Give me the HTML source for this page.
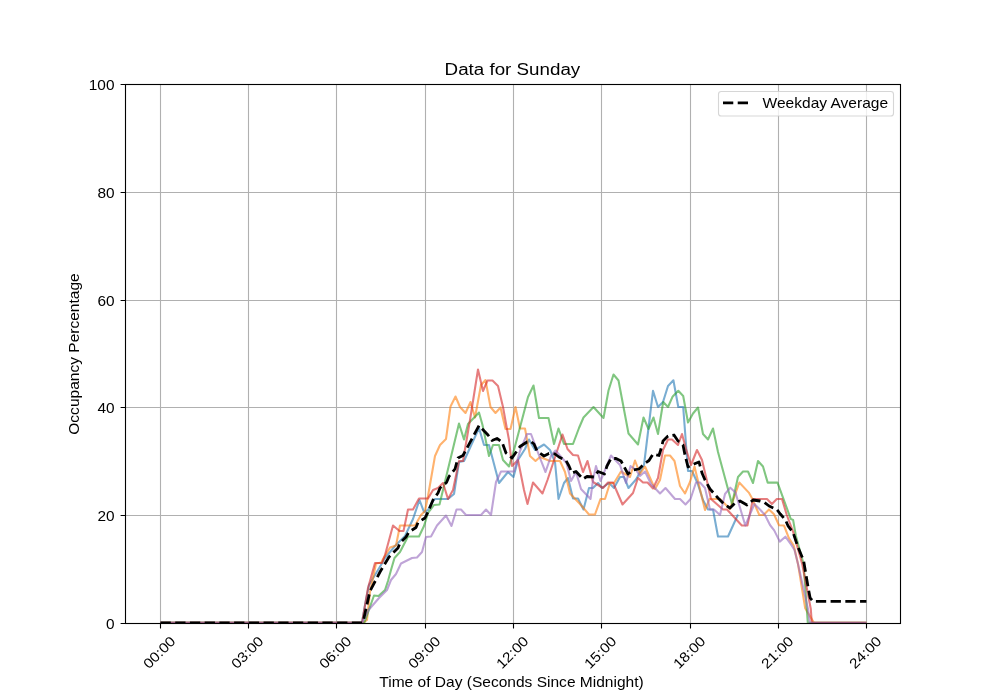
<!DOCTYPE html><html><head><meta charset="utf-8"><style>html,body{margin:0;padding:0;background:#fff;width:1000px;height:700px;overflow:hidden}svg{display:block;will-change:transform}text{font-family:"Liberation Sans",sans-serif;fill:#000}</style></head><body><svg width="1000" height="700" viewBox="0 0 1000 700"><rect x="0" y="0" width="1000" height="700" fill="#fff"/><path d="M160.50 84.5V623.5 M248.50 84.5V623.5 M336.50 84.5V623.5 M425.50 84.5V623.5 M513.50 84.5V623.5 M601.50 84.5V623.5 M690.50 84.5V623.5 M778.50 84.5V623.5 M866.50 84.5V623.5 M125.5 623.50H900.5 M125.5 515.50H900.5 M125.5 407.50H900.5 M125.5 300.50H900.5 M125.5 192.50H900.5 M125.5 84.50H900.5" stroke="#b0b0b0" stroke-width="1.11" fill="none"/><defs><clipPath id="ax"><rect x="125.5" y="84.5" width="775" height="539"/></clipPath></defs><g clip-path="url(#ax)"><path d="M160.5 622.9 L362.0 622.9 L365.0 605.0 L369.0 585.0 L375.0 575.0 L381.0 565.0 L385.0 558.0 L395.0 546.0 L405.0 536.0 L413.0 519.0 L419.5 500.0 L424.0 512.0 L428.0 510.0 L433.0 501.0 L435.0 499.0 L448.0 499.0 L454.0 494.0 L459.0 462.0 L464.0 461.0 L479.0 428.0 L484.0 445.0 L489.0 445.0 L499.0 483.0 L508.0 472.0 L513.5 477.0 L518.0 460.0 L525.0 449.0 L529.0 439.5 L535.0 450.0 L544.0 444.5 L550.0 450.0 L555.0 462.0 L558.5 499.0 L564.0 483.0 L568.0 478.0 L573.0 498.5 L578.0 498.5 L583.5 509.5 L589.0 488.0 L593.0 488.0 L598.0 483.0 L602.0 488.0 L609.0 483.0 L614.0 488.0 L620.0 477.0 L624.0 477.0 L628.5 488.0 L636.0 479.5 L644.0 465.0 L653.0 390.8 L658.0 407.0 L663.0 402.0 L668.0 386.0 L673.4 380.3 L678.3 407.0 L683.2 407.0 L688.0 471.0 L692.0 471.0 L697.5 483.0 L703.0 500.0 L708.0 509.5 L713.0 509.5 L718.0 536.5 L728.0 536.5 L738.0 514.5" stroke="#1f77b4" stroke-opacity="0.6" stroke-width="2.08" fill="none" stroke-linejoin="round" stroke-linecap="butt"/><path d="M160.5 622.9 L363.0 622.9 L367.0 620.0 L370.0 592.0 L376.0 563.5 L381.5 562.5 L383.0 559.0 L390.0 547.5 L396.0 545.5 L400.0 525.5 L415.0 525.5 L421.0 515.0 L425.0 511.0 L428.0 496.0 L435.0 456.0 L440.0 445.0 L446.0 439.0 L450.5 406.5 L455.5 396.5 L460.0 407.0 L465.5 413.0 L470.5 402.0 L475.0 417.5 L481.0 385.0 L485.5 380.0 L490.5 407.0 L495.5 413.0 L500.5 407.5 L505.5 429.0 L510.5 429.0 L515.5 407.0 L520.0 428.5 L525.0 428.5 L530.0 456.0 L535.5 461.0 L540.0 457.0 L550.0 461.0 L560.0 461.0 L565.0 472.0 L570.0 493.5 L580.0 504.0 L589.0 514.5 L595.0 514.5 L600.5 499.0 L605.0 499.0 L610.0 483.0 L614.0 483.0 L621.0 471.5 L630.0 477.0 L635.0 460.5 L640.0 474.0 L645.0 466.5 L655.0 489.0 L660.0 480.0 L665.0 455.5 L670.0 455.5 L674.5 461.0 L680.0 486.0 L685.0 493.5 L690.0 482.0 L694.5 466.5 L705.0 510.0 L709.5 499.0 L720.0 499.0 L730.0 509.0 L739.3 482.5 L748.8 492.6 L751.6 497.5 L759.3 515.0 L763.5 515.0 L769.0 509.4 L774.0 514.3 L779.0 525.2 L784.0 525.5 L788.9 538.1 L793.8 545.8 L798.0 564.0 L805.2 608.3 L814.0 622.9 L866.4 622.9" stroke="#ff7f0e" stroke-opacity="0.6" stroke-width="2.08" fill="none" stroke-linejoin="round" stroke-linecap="butt"/><path d="M160.5 622.9 L364.0 622.9 L365.0 621.0 L374.0 595.5 L378.5 596.0 L385.0 590.0 L388.0 581.0 L391.0 570.0 L394.5 558.0 L400.0 552.0 L408.0 536.5 L419.0 536.5 L424.0 526.0 L428.0 513.0 L434.0 505.0 L439.5 504.5 L459.0 423.5 L464.0 439.5 L468.0 424.0 L479.0 412.5 L482.5 425.0 L489.0 456.0 L493.0 445.0 L499.0 445.0 L503.0 460.0 L509.0 466.5 L514.0 450.0 L528.0 397.0 L533.5 385.5 L539.0 418.0 L548.5 418.0 L554.0 444.0 L558.5 428.5 L564.0 444.0 L573.0 444.0 L579.0 428.0 L583.5 417.5 L593.5 407.0 L603.5 418.0 L608.5 390.5 L613.5 374.5 L618.5 380.5 L623.5 407.0 L628.5 433.5 L638.0 444.5 L643.5 417.5 L648.5 429.0 L653.5 417.5 L658.0 434.0 L663.2 402.0 L668.0 407.0 L672.7 396.4 L678.3 390.8 L683.2 396.0 L688.0 422.5 L693.0 413.5 L698.0 407.5 L703.0 434.0 L708.0 439.5 L713.0 428.5 L718.0 452.0 L732.0 504.0 L738.0 477.0 L743.0 471.5 L748.0 471.5 L753.0 483.0 L758.0 461.0 L763.0 466.5 L767.7 482.6 L777.5 482.6 L790.8 519.0 L793.1 519.9 L795.9 536.0 L803.6 564.0 L807.8 622.9 L866.4 622.9" stroke="#2ca02c" stroke-opacity="0.6" stroke-width="2.08" fill="none" stroke-linejoin="round" stroke-linecap="butt"/><path d="M160.5 622.9 L362.0 622.9 L368.0 588.0 L375.0 563.0 L382.0 563.0 L385.0 555.0 L393.0 525.5 L399.5 531.0 L403.5 531.0 L408.0 509.5 L413.0 509.5 L419.0 498.5 L428.0 498.5 L433.0 490.0 L438.0 488.0 L443.0 483.0 L448.0 499.0 L453.0 490.0 L459.0 461.0 L463.0 461.0 L470.0 420.0 L478.0 369.5 L483.0 391.0 L487.5 380.5 L492.5 380.5 L498.0 386.0 L503.0 407.0 L509.0 440.0 L512.0 466.0 L518.0 460.0 L524.0 490.0 L527.5 504.0 L533.0 482.5 L542.5 493.5 L547.5 480.0 L562.5 434.5 L567.5 449.0 L573.0 455.0 L578.0 455.5 L583.0 472.0 L587.5 461.0 L593.0 482.0 L603.0 488.0 L608.0 482.5 L613.0 482.5 L622.5 504.5 L633.0 493.0 L638.0 478.0 L643.0 482.5 L647.5 482.5 L653.0 488.5 L658.0 478.0 L663.0 450.0 L668.0 439.5 L672.0 439.5 L678.0 445.0 L682.0 434.0 L686.0 449.0 L691.0 465.0 L697.0 450.0 L702.0 460.0 L706.5 479.0 L711.0 499.0 L723.0 509.5 L727.0 509.5 L741.8 525.5 L747.4 525.5 L753.0 499.0 L767.0 499.0 L771.9 504.0 L776.8 499.0 L782.0 499.0 L786.8 515.0 L793.1 531.8 L802.2 564.0 L810.8 609.0 L811.8 622.9 L866.4 622.9" stroke="#d62728" stroke-opacity="0.6" stroke-width="2.08" fill="none" stroke-linejoin="round" stroke-linecap="butt"/><path d="M160.5 622.9 L362.0 622.9 L369.0 609.5 L379.0 598.0 L387.0 590.0 L391.0 580.0 L396.0 574.0 L401.0 563.5 L406.0 561.0 L412.0 558.0 L417.0 557.5 L422.0 552.0 L426.0 537.0 L431.0 536.5 L437.0 525.5 L446.0 515.5 L451.5 526.0 L456.5 509.5 L461.0 509.5 L466.0 515.0 L481.0 515.0 L486.0 509.5 L491.0 515.0 L496.0 482.0 L501.0 471.5 L514.0 471.5 L520.0 451.0 L527.0 434.0 L531.0 434.0 L540.0 458.0 L545.5 472.0 L551.0 456.0 L555.5 450.5 L566.5 463.0 L571.0 481.0 L576.0 472.0 L581.0 489.0 L590.5 499.0 L593.0 480.0 L596.0 466.0 L600.5 481.0 L611.0 455.5 L620.0 465.0 L626.0 483.0 L630.5 466.0 L636.0 470.0 L640.0 476.0 L645.0 471.5 L651.0 484.0 L660.0 493.5 L665.5 488.0 L675.0 499.0 L680.0 499.0 L685.5 504.5 L690.5 499.0 L696.0 482.5 L700.0 482.5 L705.0 488.0 L710.0 509.5 L714.0 509.5 L720.0 515.0 L725.0 494.0 L730.3 487.7 L735.5 492.6 L745.3 525.5 L754.4 504.0 L760.0 509.5 L765.0 515.0 L770.0 525.0 L774.2 530.4 L779.8 541.6 L785.4 536.7 L791.0 544.4 L794.5 550.0 L798.0 564.0 L808.0 609.0 L809.8 622.9 L866.4 622.9" stroke="#9467bd" stroke-opacity="0.6" stroke-width="2.08" fill="none" stroke-linejoin="round" stroke-linecap="butt"/><path d="M160.5 622.9 L362.0 622.9 L363.5 620.0 L370.0 591.0 L380.0 572.0 L389.0 557.0 L398.0 548.0 L400.0 543.0 L406.0 537.0 L409.0 532.0 L416.0 527.5 L418.0 522.5 L425.0 518.0 L428.0 512.0 L433.0 500.0 L438.0 493.0 L440.0 488.0 L446.5 482.5 L449.0 476.5 L455.0 469.0 L458.0 458.0 L463.0 455.5 L479.0 425.5 L488.0 435.0 L492.0 440.5 L497.0 438.5 L502.0 442.0 L506.0 453.0 L512.0 458.0 L520.0 446.5 L527.0 442.0 L531.0 441.5 L534.0 444.0 L537.0 451.0 L544.0 456.0 L549.0 453.5 L555.0 454.0 L559.0 457.0 L566.0 460.5 L569.0 466.0 L572.0 473.0 L576.0 471.5 L583.0 479.0 L587.0 476.5 L594.0 477.0 L598.0 471.5 L604.5 474.0 L607.0 466.0 L611.0 458.5 L616.0 458.5 L621.0 461.0 L628.0 474.0 L633.0 470.0 L639.0 469.0 L644.0 464.0 L649.0 460.5 L653.0 454.0 L659.0 455.5 L661.0 449.0 L663.0 441.0 L668.0 436.0 L674.0 435.0 L678.0 441.0 L683.0 445.0 L685.0 455.0 L688.0 467.0 L694.0 464.0 L699.0 462.0 L702.0 473.0 L705.0 480.0 L710.0 489.0 L718.0 498.0 L724.0 504.0 L730.0 508.0 L735.0 503.0 L740.0 501.0 L747.0 505.0 L753.0 500.0 L760.0 501.0 L764.2 502.2 L769.1 506.0 L776.8 509.5 L780.3 514.0 L785.4 519.9 L788.2 526.2 L793.1 532.5 L798.0 547.2 L803.6 560.5 L808.0 586.6 L810.1 597.8 L812.9 601.3 L866.4 601.3" stroke="#000" stroke-width="2.78" fill="none" stroke-dasharray="10.28 4.44" stroke-linejoin="round"/></g><rect x="125.5" y="84.5" width="775" height="539" fill="none" stroke="#000" stroke-width="1.11"/><path d="M160.50 623.5V628.4 M248.50 623.5V628.4 M336.50 623.5V628.4 M425.50 623.5V628.4 M513.50 623.5V628.4 M601.50 623.5V628.4 M690.50 623.5V628.4 M778.50 623.5V628.4 M866.50 623.5V628.4 M120.6 623.50H125.5 M120.6 515.50H125.5 M120.6 407.50H125.5 M120.6 300.50H125.5 M120.6 192.50H125.5 M120.6 84.50H125.5" stroke="#000" stroke-width="1.11" fill="none"/><text x="0" y="0" font-size="14" text-anchor="end" transform="translate(114.5 628.70) scale(1.1 1)">0</text><text x="0" y="0" font-size="14" text-anchor="end" transform="translate(114.5 520.70) scale(1.1 1)">20</text><text x="0" y="0" font-size="14" text-anchor="end" transform="translate(114.5 412.70) scale(1.1 1)">40</text><text x="0" y="0" font-size="14" text-anchor="end" transform="translate(114.5 305.70) scale(1.1 1)">60</text><text x="0" y="0" font-size="14" text-anchor="end" transform="translate(114.5 197.70) scale(1.1 1)">80</text><text x="0" y="0" font-size="14" text-anchor="end" transform="translate(114.5 89.70) scale(1.1 1)">100</text><text x="0" y="0" font-size="14" text-anchor="middle" transform="translate(159.10 652.30) rotate(-45) scale(1.11 1)" dy="5">00:00</text><text x="0" y="0" font-size="14" text-anchor="middle" transform="translate(247.10 652.30) rotate(-45) scale(1.11 1)" dy="5">03:00</text><text x="0" y="0" font-size="14" text-anchor="middle" transform="translate(335.10 652.30) rotate(-45) scale(1.11 1)" dy="5">06:00</text><text x="0" y="0" font-size="14" text-anchor="middle" transform="translate(424.10 652.30) rotate(-45) scale(1.11 1)" dy="5">09:00</text><text x="0" y="0" font-size="14" text-anchor="middle" transform="translate(512.10 652.30) rotate(-45) scale(1.11 1)" dy="5">12:00</text><text x="0" y="0" font-size="14" text-anchor="middle" transform="translate(600.10 652.30) rotate(-45) scale(1.11 1)" dy="5">15:00</text><text x="0" y="0" font-size="14" text-anchor="middle" transform="translate(689.10 652.30) rotate(-45) scale(1.11 1)" dy="5">18:00</text><text x="0" y="0" font-size="14" text-anchor="middle" transform="translate(777.10 652.30) rotate(-45) scale(1.11 1)" dy="5">21:00</text><text x="0" y="0" font-size="14" text-anchor="middle" transform="translate(865.10 652.30) rotate(-45) scale(1.11 1)" dy="5">24:00</text><text x="0" y="0" font-size="17.3" text-anchor="middle" transform="translate(512.4 75.3) scale(1.085 1)">Data for Sunday</text><text x="0" y="0" font-size="14" text-anchor="middle" transform="translate(511.5 686.8) scale(1.11 1)">Time of Day (Seconds Since Midnight)</text><text x="0" y="0" font-size="14" text-anchor="middle" transform="translate(78.9 354) rotate(-90) scale(1.11 1)">Occupancy Percentage</text><rect x="718.5" y="91.5" width="175" height="24.5" rx="2.8" fill="#fff" fill-opacity="0.8" stroke="#cccccc" stroke-opacity="0.8" stroke-width="1.11"/><path d="M723 102.8H750.8" stroke="#000" stroke-width="2.78" stroke-dasharray="10.28 4.44"/><text x="0" y="0" font-size="14" transform="translate(762.6 107.8) scale(1.11 1)">Weekday Average</text></svg></body></html>
